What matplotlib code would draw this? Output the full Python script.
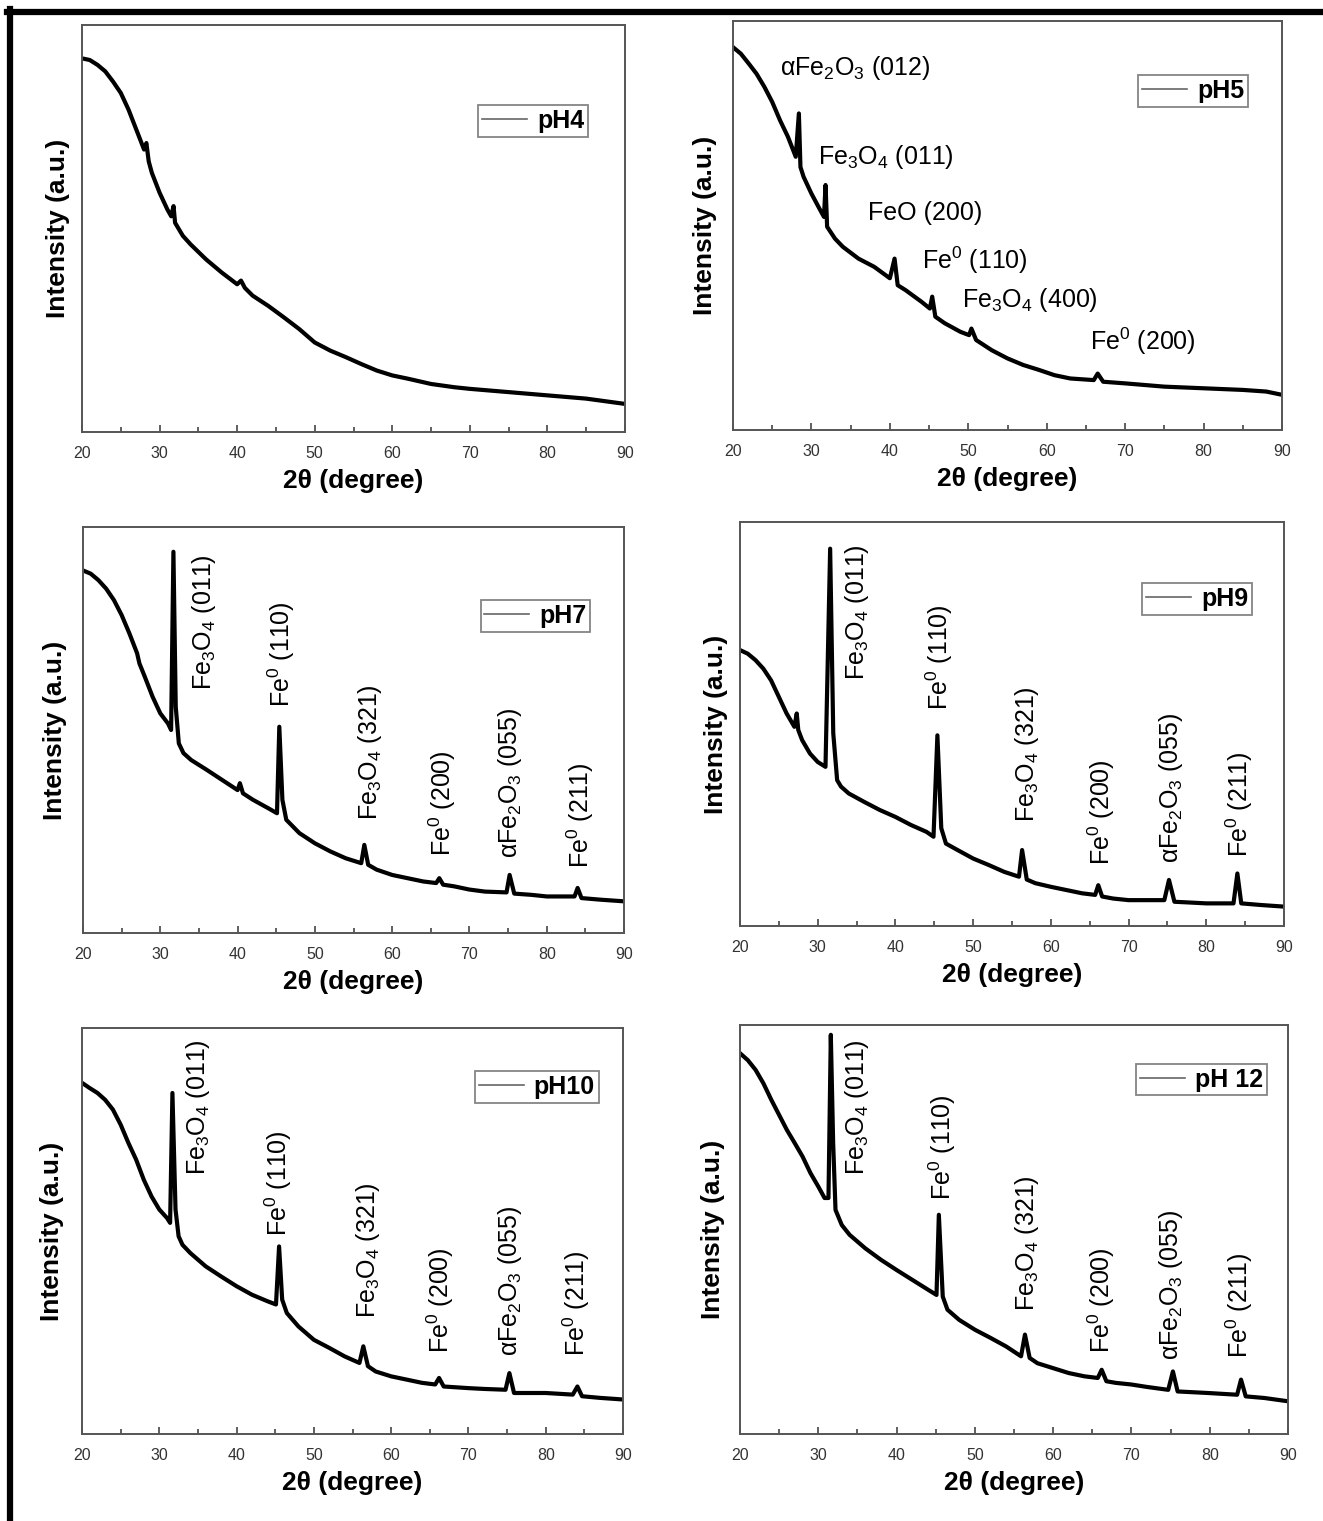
#XRD patterns of the iron oxide samples prepared at different pH
#six panels, one for each pH, with the peaks labelled
import matplotlib
matplotlib.use('Agg')
import matplotlib.pyplot as plt
from matplotlib.ticker import MultipleLocator

plt.rcParams['font.family'] = ['Liberation Sans', 'DejaVu Sans']
plt.rcParams['mathtext.fontset'] = 'custom'
plt.rcParams['mathtext.rm'] = 'Liberation Sans'

# 2theta (deg) and intensity (a.u., 0-100 of the axis height)
x_ph4 = [20, 21, 22, 23, 24, 25, 26, 27, 28, 28.3, 28.6, 29, 30, 31, 31.5, 31.8, 32, 33, 34, 36, 38,
         40, 40.5, 41, 42, 44, 46, 48, 50, 52, 54, 56, 58, 60, 62, 65, 68, 70, 75, 80, 85, 90]
y_ph4 = [91.8, 91.4, 90.2, 88.6, 86.1, 83.3, 79.2, 74.3, 69.4, 71, 66.5, 63.7, 58.8, 54.7, 53,
         55.5, 51.4, 48.2, 46.1, 42.4, 39.2, 36.3, 37.2, 35.4, 33.5, 31, 28.2, 25.3, 22, 20, 18.4,
         16.7, 15.1, 13.9, 13.1, 11.8, 11, 10.6, 9.8, 9, 8.2, 6.9]

x_ph5 = [20, 21, 22, 23, 24, 25, 26, 27, 28, 28.4, 28.6, 29, 30, 31, 31.6, 31.8, 32, 33, 34, 36,
         38, 40, 40.6, 41, 42, 44, 45.1, 45.4, 45.8, 47, 49, 50.1, 50.4, 51, 53, 55, 57, 59, 61, 63,
         66, 66.5, 67.2, 70, 75, 80, 85, 88, 90]
y_ph5 = [93.6, 92, 89.6, 87.1, 83.9, 80.2, 75.7, 71.7, 66.8, 77.4, 64.3, 61.9, 57.8, 54.2, 52.1,
         59.9, 49.7, 46.8, 44.8, 41.9, 39.9, 37.1, 41.9, 35.4, 34.2, 31.4, 29.7, 32.6, 27.7, 26.1,
         24, 23.2, 24.8, 22, 19.5, 17.5, 15.9, 14.7, 13.4, 12.6, 12.2, 13.8, 11.8, 11.4, 10.6,
         10.2, 9.8, 9.4, 8.6]

x_ph7 = [20, 21, 22, 23, 24, 25, 26, 27, 27.3, 28, 29, 30, 31, 31.4, 31.7, 32, 32.4, 33, 34, 36,
         38, 40, 40.3, 40.7, 42, 44, 45.1, 45.4, 45.8, 46.3, 48, 50, 52, 54, 56, 56.4, 56.9, 58, 60,
         62, 64, 65.7, 66.1, 66.6, 68, 70, 72, 74.8, 75.2, 75.8, 78, 80, 83.6, 84, 84.5, 87, 90]
y_ph7 = [89.3, 88.5, 86.9, 84.8, 82, 78.3, 73.8, 68.9, 66.4, 63.1, 58.2, 54.1, 51.6, 50, 93.9,
         55.7, 46.7, 44.3, 42.6, 40.2, 37.7, 35.2, 36.9, 34.4, 32.8, 30.7, 29.5, 50.8, 32.8, 27.9,
         24.6, 22.1, 20.1, 18.4, 17.2, 21.7, 16.8, 15.6, 14.3, 13.5, 12.7, 12.3, 13.5, 11.9, 11.5,
         10.7, 10.2, 10, 14.3, 9.7, 9.4, 9.0, 9, 11.1, 8.6, 8.2, 7.8]

x_ph9 = [20, 21, 22, 23, 24, 25, 26, 27, 27.3, 27.5, 28, 29, 30, 31, 31.6, 32, 32.5, 33, 34, 36,
         38, 40, 42, 44, 44.9, 45.4, 45.9, 46.5, 48, 50, 52, 54, 55.9, 56.3, 56.9, 58, 60, 62, 64,
         65.7, 66.1, 66.6, 68, 70, 72, 74.6, 75.2, 75.9, 78, 80, 83.5, 84, 84.5, 87, 90]
y_ph9 = [68.3, 67.4, 65.8, 63.7, 60.8, 56.7, 52.6, 49.3, 52.6, 48.5, 46, 42.7, 40.6, 39.4, 93.4,
         47.7, 36.1, 34.5, 32.8, 30.7, 28.7, 27, 25, 23.3, 22.1, 47.2, 24.2, 20.4, 18.8, 16.7,
         15.1, 13.4, 12.2, 18.8, 11.5, 10.6, 9.7, 8.9, 8.1, 7.7, 10.1, 7.3, 6.8, 6.4, 6.4, 6.4,
         11.4, 6, 5.8, 5.6, 5.6, 13, 5.6, 5.2, 4.8]

x_ph10 = [20, 21, 22, 23, 24, 25, 26, 27, 28, 29, 30, 31, 31.4, 31.7, 32.1, 32.5, 33, 34, 36, 38,
          40, 42, 44, 45.1, 45.5, 45.9, 46.5, 48, 50, 52, 54, 55.9, 56.4, 57, 58, 60, 62, 64,
          65.7, 66.2, 66.8, 70, 72, 74.8, 75.3, 75.9, 80, 83.5, 84.1, 84.7, 87, 90]
y_ph10 = [86.5, 85.2, 84, 82.3, 79.9, 76.2, 71.7, 67.6, 62.6, 58.5, 55.3, 53.2, 52, 84, 55.3, 48.7,
          46.6, 44.6, 41.3, 38.8, 36.4, 34.3, 32.7, 31.9, 46.2, 33.1, 29.8, 26.5, 23.2, 21.2,
          19.1, 17.5, 21.6, 16.7, 15.4, 14.2, 13.4, 12.6, 12.2, 13.8, 11.7, 11.3, 11.1, 10.9, 15,
          10.1, 10.1, 9.7, 11.7, 9.3, 8.9, 8.5]

x_ph12 = [20, 21, 22, 23, 24, 25, 26, 27, 28, 29, 30, 30.8, 31.3, 31.6, 31.9, 32.2, 33, 34, 36,
          38, 40, 42, 44, 45.1, 45.4, 45.9, 46.5, 48, 50, 52, 54, 55.9, 56.4, 57, 58, 60, 62, 64,
          65.7, 66.2, 66.8, 68, 70, 72, 74.7, 75.3, 75.9, 78, 80, 83.5, 84, 84.6, 87, 90]
y_ph12 = [93.1, 91.4, 89, 85.7, 81.7, 78, 74.3, 71.1, 67.8, 63.8, 60.5, 57.7, 57.7, 97.6, 71.1,
          54.8, 51.1, 48.7, 45.4, 42.6, 40.1, 37.7, 35.3, 34, 53.6, 33.6, 30.4, 27.9, 25.5, 23.5,
          21.4, 19, 24.3, 18.6, 17.3, 16.1, 14.9, 14.1, 13.7, 15.7, 12.9, 12.5, 12.1, 11.5, 10.8,
          15.3, 10.4, 10.2, 10, 9.6, 13.3, 9.2, 8.8, 8]

# peak labels: text, 2theta, intensity
fe3o4 = r'Fe$_\mathregular{3}$O$_\mathregular{4}$'
fe2o3 = r'αFe$_\mathregular{2}$O$_\mathregular{3}$'
fe0 = r'Fe$^\mathregular{0}$'
peaks_ph5 = [(fe2o3 + ' (012)', 35.6, 88.4), (fe3o4 + ' (011)', 39.5, 66.7),
             ('FeO (200)', 44.5, 53), (fe0 + ' (110)', 50.9, 41.5),
             (fe3o4 + ' (400)', 57.9, 31.8), (fe0 + ' (200)', 72.2, 21.7)]
names_hi = [fe3o4 + ' (011)', fe0 + ' (110)', fe3o4 + ' (321)',
            fe0 + ' (200)', fe2o3 + ' (055)', fe0 + ' (211)']
label_x_ph7 = [35.6, 45.6, 57.1, 66.5, 75.3, 84.4]
label_y_ph7 = [59.8, 55.7, 27.9, 18.9, 18.4, 16]
label_x_ph9 = [35, 45.6, 56.9, 66.5, 75.5, 84.2]
label_y_ph9 = [60.8, 53.4, 25.8, 15.1, 15.5, 17.1]
label_x_ph10 = [35, 45.4, 57, 66.3, 75.4, 84]
label_y_ph10 = [63.9, 48.7, 28.6, 20, 19.1, 19.1]
label_x_ph12 = [34.9, 45.8, 56.6, 66.2, 75.1, 83.8]
label_y_ph12 = [63.4, 57.2, 30, 19.8, 18.2, 18.6]

W, H = 1323, 1521
fig = plt.figure(figsize=(W / 100, H / 100), dpi=100)

# black frame at top and left of the scan
fig.add_artist(plt.Line2D([7 / W, 1], [1 - 12 / H] * 2, color='k', lw=4.5))
fig.add_artist(plt.Line2D([10 / W] * 2, [0, 1 - 9 / H], color='k', lw=4.5))

# axes boxes in pixels: left, right, top, bottom, then legend anchor and ylabel pad
panels = [
    ('pH4', x_ph4, y_ph4, (82, 625, 25, 432), (0.932, 0.803), 9),
    ('pH5', x_ph5, y_ph5, (733, 1282, 21, 430), (0.938, 0.867), 11.5),
    ('pH7', x_ph7, y_ph7, (83, 624, 527, 933), (0.938, 0.82), 11.5),
    ('pH9', x_ph9, y_ph9, (740, 1284, 522, 926), (0.941, 0.848), 8.6),
    ('pH10', x_ph10, y_ph10, (82, 623, 1028, 1434), (0.955, 0.893), 12.6),
    ('pH 12', x_ph12, y_ph12, (740, 1288, 1025, 1434), (0.961, 0.905), 10.5),
]
rot_labels = {'pH7': (label_x_ph7, label_y_ph7), 'pH9': (label_x_ph9, label_y_ph9),
              'pH10': (label_x_ph10, label_y_ph10), 'pH 12': (label_x_ph12, label_y_ph12)}

for name, xs, ys, box, leg, pad in panels:
    l, r, t, b = box
    ax = fig.add_axes([l / W, 1 - b / H, (r - l) / W, (b - t) / H])
    ax.plot(xs, ys, color='k', lw=3, label=name)
    ax.set_xlim(20, 90)
    ax.set_ylim(0, 100)
    ax.set_yticks([])
    ax.xaxis.set_major_locator(MultipleLocator(10))
    ax.xaxis.set_minor_locator(MultipleLocator(5))
    ax.tick_params(axis='x', which='major', direction='in', length=5, width=1.2,
                   color='#444', labelsize=11.5, labelcolor='#333', pad=10)
    ax.tick_params(axis='x', which='minor', direction='in', length=3.5, width=1.2, color='#444')
    for s in ax.spines.values():
        s.set_color('#555')
        s.set_linewidth(1.4)
    ax.set_xlabel('2θ (degree)', fontsize=19, fontweight='bold', labelpad=5.5)
    ax.set_ylabel('Intensity (a.u.)', fontsize=19, fontweight='bold', labelpad=pad)
    lg = ax.legend(loc='upper right', bbox_to_anchor=leg, fancybox=False, frameon=True,
                   prop={'size': 18, 'weight': 'bold'}, handlelength=1.8, handletextpad=0.4,
                   borderpad=0.15, borderaxespad=0)
    lg.get_frame().set_edgecolor('#666')
    lg.get_frame().set_linewidth(1.3)
    lg.get_lines()[0].set_color('#666')
    lg.get_lines()[0].set_linewidth(1.2)

    if name == 'pH5':
        for txt, px, py in peaks_ph5:
            ax.text(px, py, txt, fontsize=18, ha='center', va='center')
    if name in rot_labels:
        lx, ly = rot_labels[name]
        for txt, px, py in zip(names_hi, lx, ly):
            ax.text(px, py, txt, fontsize=18, rotation=90, ha='center', va='bottom')

fig.savefig('out.png', dpi=100)
